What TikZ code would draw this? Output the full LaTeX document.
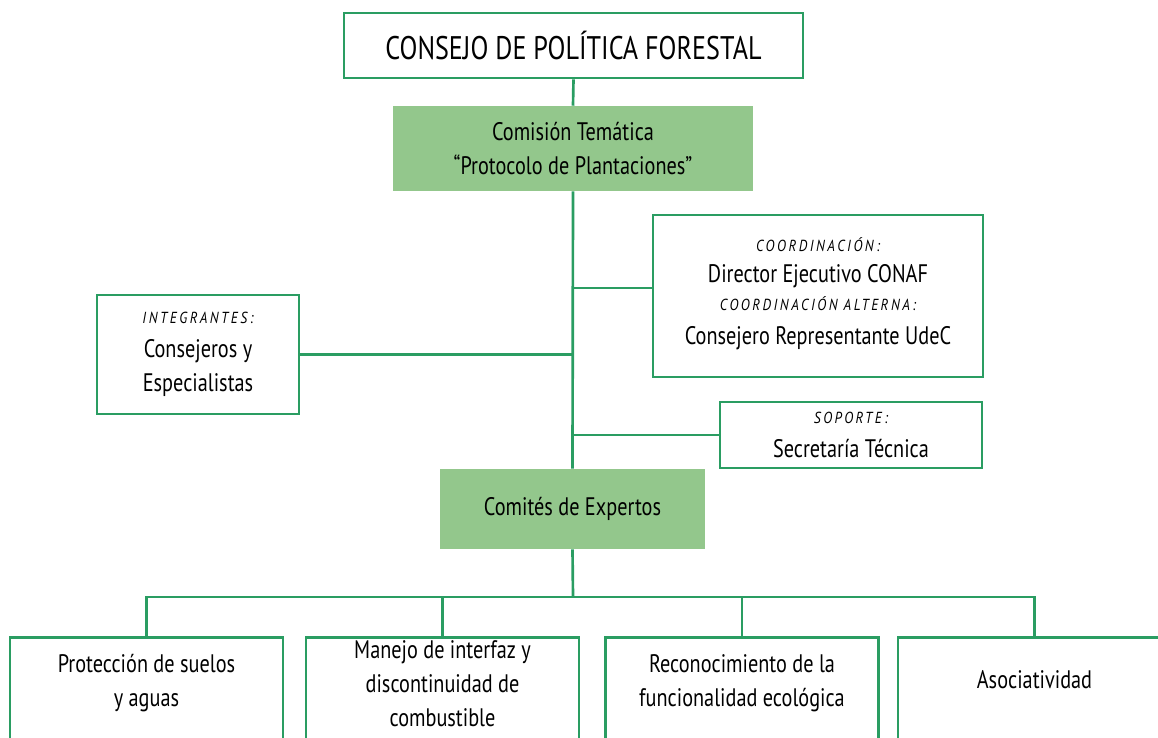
\documentclass[tikz,border=0pt]{standalone}
\usepackage{fontspec}
\setmainfont{PT Sans}[FakeStretch=0.8]
\newfontfamily\tagfamily{PT Sans}[FakeStretch=0.85,LetterSpace=16]
\usepackage{xcolor}
\usepackage{tikz}
\usetikzlibrary{positioning}

\definecolor{forest}{HTML}{2A9D62}
\definecolor{leafgreen}{HTML}{93C78C}
\newcommand{\tagtext}[1]{{\fontsize{12}{13}\selectfont\tagfamily\itshape #1}}

\begin{document}
\begin{tikzpicture}[x=0.75pt,y=-0.75pt,font=\fontsize{19}{25.5}\selectfont,
  box/.style={draw=forest,line width=2pt,fill=white,align=center,inner sep=0pt},
  greenbox/.style={fill=leafgreen,align=center,inner sep=0pt},
  leaf/.style={box,minimum width=204.75pt,minimum height=93pt},
  leaftext/.style={align=center,inner sep=0pt},
  link/.style={draw=forest,line width=2pt}]

\useasboundingbox (0,0) rectangle (1158,738);
\clip (0,0) rectangle (1158,738);

% --- Top: council and thematic commission ---
\node[box,minimum width=344.25pt,minimum height=48.75pt,font=\fontsize{24.5}{28}\selectfont]
  (consejo) at (573.5,45.5) {CONSEJO DE POLÍTICA FORESTAL};
\node[greenbox,minimum width=270pt,minimum height=63.75pt]
  (comision) at (573,148.5) {Comisión Temática\\“Protocolo de Plantaciones”};

% Side boxes
\node[box,minimum width=151.5pt,minimum height=89.25pt]
  (integ) at (198,354.5) {\tagtext{INTEGRANTES:}\\Consejeros y\\Especialistas};
\node[box,minimum width=247.5pt,minimum height=121.5pt]
  (coord) at (818,296) {\tagtext{COORDINACIÓN:}\\[-2pt]Director Ejecutivo CONAF\\[-5pt]
  \tagtext{COORDINACIÓN ALTERNA:}\\Consejero Representante UdeC\\[-18pt]};
\node[box,minimum width=196.5pt,minimum height=49.5pt]
  (soporte) at (851,435) {\tagtext{SOPORTE:}\\Secretaría Técnica};

% Experts committee
\node[greenbox,minimum width=198.75pt,minimum height=60pt]
  (comites) at (572.5,509) {Comités de Expertos};

% --- Trunk and side connectors ---
\draw[link] (consejo.south) -- (comision.north);
\draw[link] (comision.south) -- (comites.north);
\coordinate (jI) at (comision.south |- integ.east);
\draw[link] (integ.east) -- (jI);
\coordinate (jC) at (573,288);
\draw[link] (jC) -- (jC -| coord.west);
\coordinate (jS) at (comision.south |- soporte.west);
\draw[link] (jS) -- (soporte.west);

% --- Bottom: expert committees ---
\foreach \n/\x in {1/146.5,2/442.5,3/742,4/1034.5} {
  \node[leaf,anchor=north] (b\n) at (\x,636) {};
}
\node[leaftext] (t1) at (146.5,683) {Protección de suelos\\y aguas};
\node[leaftext] (t2) at (442.5,684) {Manejo de interfaz y\\discontinuidad de\\combustible};
\node[leaftext] (t3) at (742,683) {Reconocimiento de la\\funcionalidad ecológica};
\node[leaftext] (t4) at (1034.5,680) {Asociatividad};

\coordinate (bus) at (573,597);
\draw[link] (comites.south) -- (bus);
\draw[link] (b1.north) -- (b1.north |- bus) -- (b4.north |- bus) -- (b4.north);
\foreach \n in {2,3} {
  \draw[link] (b\n.north) -- (b\n.north |- bus);
}

\end{tikzpicture}
\end{document}
